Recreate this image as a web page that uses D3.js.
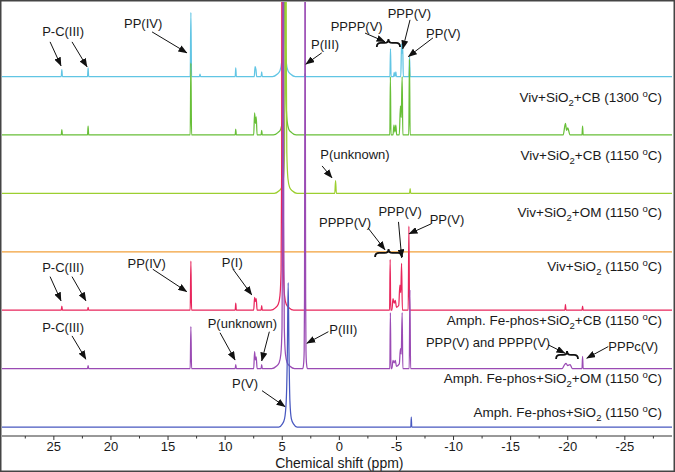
<!DOCTYPE html>
<html>
<head>
<meta charset="utf-8">
<script src="https://cdn.jsdelivr.net/npm/d3@7"></script>
<style>
  body { margin: 0; background: #fff; }
  svg text { font-family: "Liberation Sans", Arial, sans-serif; fill: #1a1a1a; }
</style>
</head>
<body>
<svg width="675" height="472"></svg>
<script>
// ---- data (ppm, intensity in a.u.; 100 a.u. = one stacking step) ----
var xTicks = [25, 20, 15, 10, 5, 0, -5, -10, -15, -20, -25];

var sampleLabels = [
  "Viv+SiO_2+CB (1300 ^oC)",
  "Viv+SiO_2+CB (1150 ^oC)",
  "Viv+SiO_2+OM (1150 ^oC)",
  "Viv+SiO_2 (1150 ^oC)",
  "Amph. Fe-phos+SiO_2+CB (1150 ^oC)",
  "Amph. Fe-phos+SiO_2+OM (1150 ^oC)",
  "Amph. Fe-phos+SiO_2 (1150 ^oC)"
];
var colors = ["#61c5e4", "#68bf38", "#9ccf30", "#f2a03a", "#e8265c", "#9a4bb4", "#4858c0"];

var specCB1300 = [
  [24.35,0],[24.3,12],[24.25,0], [22.05,0],[22.0,15],[21.95,0],
  [13.06,0],[13.0,110],[12.94,0], [12.25,0],[12.2,4],[12.15,0],
  [9.12,0],[9.07,15],[9.02,0], [7.45,0],[7.38,17],[7.3,12],[7.24,0], [6.85,0],[6.8,8],[6.75,0],
  [5.85,0],[5.45,4],[5.2,10],[5.05,25],[4.95,70],[4.9,250],[4.85,2000],[4.8,250],[4.75,70],[4.65,25],[4.5,10],[4.25,4],[3.85,0],
  [3.05,0],[3.0,5],[2.95,0],
  [-4.43,0],[-4.48,48],[-4.53,0], [-4.75,0],[-4.8,7],[-4.88,0],[-4.95,8],[-5.0,0],
  [-5.38,0],[-5.45,56],[-5.5,40],[-5.55,52],[-5.6,0], [-6.1,0],[-6.15,34],[-6.2,0]
];
var specCB1150 = [
  [24.35,0],[24.3,9],[24.25,0], [22.05,0],[22.0,15],[21.95,0],
  [13.06,0],[13.0,123],[12.94,0], [9.12,0],[9.07,10],[9.02,0],
  [7.5,0],[7.42,38],[7.35,20],[7.28,31],[7.2,0], [6.85,0],[6.8,8],[6.75,0],
  [5.78,0],[5.38,4],[5.13,10],[4.98,25],[4.88,70],[4.83,250],[4.78,2000],[4.73,250],[4.68,70],[4.58,25],[4.43,10],[4.18,4],[3.78,0],
  [-4.42,0],[-4.47,100],[-4.52,0], [-4.7,0],[-4.78,17],[-4.86,5],[-4.95,17],[-5.02,0],
  [-5.25,0],[-5.35,50],[-5.42,30],[-5.5,100],[-5.56,0], [-6.08,0],[-6.14,130],[-6.2,0],
  [-19.6,0],[-19.8,20],[-19.9,8],[-20.0,12],[-20.2,0], [-21.25,0],[-21.3,15],[-21.35,0]
];
var specOM1150 = [
  [5.7,0],[5.3,4],[5.05,10],[4.9,25],[4.8,70],[4.75,250],[4.7,2000],[4.65,250],[4.6,70],[4.5,25],[4.35,10],[4.1,4],[3.7,0],
  [0.4,0],[0.33,22],[0.26,0], [-6.15,0],[-6.2,8],[-6.25,0]
];
var specSiO2 = [];
var specAmphCB = [
  [24.35,0],[24.3,7],[24.25,0], [22.05,0],[22.0,5],[21.95,0],
  [13.06,0],[13.0,84],[12.94,0], [9.12,0],[9.07,12],[9.02,0],
  [7.5,0],[7.42,22],[7.35,15],[7.28,20],[7.2,0], [6.85,0],[6.8,8],[6.75,0],
  [6.0,0],[5.6,4],[5.35,10],[5.2,25],[5.1,70],[5.05,250],[5.0,2000],[4.95,250],[4.9,70],[4.8,25],[4.65,10],[4.4,4],[4.0,0],
  [3.05,0],[3.0,8],[2.95,0],
  [-4.4,0],[-4.45,87],[-4.5,0],
  [-4.6,0],[-4.7,20],[-4.8,12],[-4.9,17],[-5.0,5],[-5.2,8],[-5.3,43],[-5.38,30],[-5.45,80],[-5.52,0],
  [-6.03,0],[-6.09,144],[-6.15,0],
  [-19.75,0],[-19.8,10],[-19.85,0], [-21.25,0],[-21.3,7],[-21.35,0]
];
var specAmphOM = [
  [22.05,0],[22.0,5],[21.95,0],
  [13.06,0],[13.0,72],[12.94,0], [9.12,0],[9.07,7],[9.02,0],
  [7.5,0],[7.42,29],[7.35,15],[7.28,20],[7.2,0], [6.85,0],[6.8,7],[6.75,0],
  [5.92,0],[5.52,4],[5.27,10],[5.12,25],[5.02,70],[4.97,250],[4.92,2000],[4.87,250],[4.82,70],[4.72,25],[4.57,10],[4.32,4],[3.92,0],
  [3.2,0],[3.12,10],[3.08,30],[3.05,120],[3.02,500],[3.0,3000],[2.98,500],[2.95,120],[2.92,30],[2.88,10],[2.8,0],
  [-4.42,0],[-4.47,96],[-4.52,0],
  [-4.6,0],[-4.7,14],[-4.8,10],[-4.9,14],[-5.0,4],[-5.25,8],[-5.35,34],[-5.42,25],[-5.5,96],[-5.56,0],
  [-6.12,0],[-6.18,135],[-6.24,0],
  [-19.5,0],[-19.7,6],[-19.85,9],[-20.0,5],[-20.2,7],[-20.4,0], [-21.25,0],[-21.3,21],[-21.35,0]
];
var specAmph = [
  [5.3,0],[5.0,5],[4.8,14],[4.65,45],[4.55,130],[4.48,247],[4.41,130],[4.33,45],[4.2,14],[4.0,5],[3.7,0],
  [-6.26,0],[-6.3,17],[-6.34,0]
];
var spectra = [specCB1300, specCB1150, specOM1150, specSiO2, specAmphCB, specAmphOM, specAmph];

// peak annotations: position in ppm / a.u. above the trace baseline
var notes = [
  {trace:0, text:"P-C(III)", at:[24.19,76.5], arrows:[[25.33,59.4,24.37,18.3],[23.41,59.4,22.09,16.6]]},
  {trace:0, text:"PP(IV)", at:[17.18,90.2], arrows:[[16.40,76.5,13.34,40.6]]},
  {trace:0, text:"P(III)", at:[1.25,54.3], arrows:[[1.54,40.6,2.94,21.2]]},
  {trace:0, text:"PPPP(V)", at:[-1.52,85.6], arrows:[[-2.25,74.5,-4.0,59.6]], brace:[-3.28,-5.32,57.7]},
  {trace:0, text:"PPP(V)", at:[-6.13,108.6], arrows:[[-6.19,97.1,-5.55,47.4]]},
  {trace:0, text:"PP(V)", at:[-9.11,74.3], arrows:[[-8.2,66.3,-6.04,34.2]]},
  {trace:2, text:"P(unknown)", at:[-1.37,65.9], arrows:[[1.51,47,0.64,26.5]]},
  {trace:4, text:"P-C(III)", at:[24.19,73.6], arrows:[[25.33,57.5,24.37,15.9],[23.41,57.5,22.19,15.9]]},
  {trace:4, text:"PP(IV)", at:[16.87,80.5], arrows:[[16.34,70.2,13.36,31.8]]},
  {trace:4, text:"P(I)", at:[9.37,82.2], arrows:[[9.31,70.2,7.67,26.2]]},
  {trace:4, text:"PPPP(V)", at:[-0.5,149.5], arrows:[[-2.51,140.9,-4.0,103.3]], brace:[-3.13,-5.49,98.1]},
  {trace:4, text:"PPP(V)", at:[-5.32,168.3], arrows:[[-5.18,151.2,-5.46,89.6]]},
  {trace:4, text:"PP(V)", at:[-9.43,154.6], arrows:[[-8.03,147.8,-6.10,130.7]]},
  {trace:5, text:"P-C(III)", at:[24.19,70.2], arrows:[[23.41,56.0,22.19,16.1]]},
  {trace:5, text:"P(unknown)", at:[8.49,77.7], arrows:[[10.45,61.5,9.13,14.6],[6.13,63.2,6.8,13.0]]},
  {trace:5, text:"P(III)", at:[-0.35,66.3], arrows:[[0.96,63.2,2.85,43.3]]},
  {trace:5, text:"PPP(V) and PPPP(V)", at:[-13.02,44.5], arrows:[[-18.3,40.6,-19.76,26.4]], brace:[-18.98,-20.9,23.5]},
  {trace:5, text:"PPPc(V)", at:[-25.74,37.7], arrows:[[-23.55,37.7,-21.66,17.8]]},
  {trace:6, text:"P(V)", at:[8.26,74.1], arrows:[[6.77,62.2,4.75,34.8]]}
];
// sample label vertical place, a.u. relative to its baseline
var labelShift = [-34.8, -34.6, -31.7, -24.5, -16.6, -15.9, 25.9];

// ---- layout ----
var svg = d3.select("svg");
var plotL = 2, plotR = 672, plotT = 2, axisY = 436;
var ppmMax = 29.54, ppmMin = -29.13, step = 100;

var x = d3.scaleLinear().domain([ppmMax, ppmMin]).range([plotL, plotR]);
var y = d3.scaleLinear().domain([-15.4, 727.7]).range([axisY, plotT]);

var defs = svg.append("defs");
defs.append("clipPath").attr("id", "plot")
  .append("rect").attr("x", plotL).attr("y", plotT).attr("width", plotR - plotL).attr("height", axisY - plotT);
defs.append("marker").attr("id", "head")
  .attr("markerUnits", "userSpaceOnUse")
  .attr("markerWidth", 9).attr("markerHeight", 7)
  .attr("refX", 8.5).attr("refY", 3.5).attr("orient", "auto")
  .append("path").attr("d", "M0,0 L9,3.5 L0,7 Z").attr("fill", "#111");

function base(i) { return (spectra.length - 1 - i) * step; }

// spectra
var line = d3.line().curve(d3.curveMonotoneX);
var g = svg.append("g").attr("clip-path", "url(#plot)");
spectra.forEach(function (spec, i) {
  var pts = [[ppmMax, 0]].concat(spec).concat([[ppmMin, 0]]);
  g.append("path")
    .attr("d", line(pts.map(function (d) { return [x(d[0]), y(d[1] + base(i))]; })))
    .attr("fill", "none")
    .attr("stroke", colors[i])
    .attr("stroke-width", 1.25);
});

// text with _sub and ^sup pieces; the shift back is put on the next piece
function richText(sel, str) {
  var parts = str.split(/(_\w|\^\w)/), back = 0;
  parts.forEach(function (p) {
    if (!p) return;
    if (p[0] === "_") {
      sel.append("tspan").attr("font-size", "9.5px").attr("dy", back + 4).text(p[1]);
      back = -4;
    } else if (p[0] === "^") {
      sel.append("tspan").attr("font-size", "9.5px").attr("dy", back - 5).text(p[1]);
      back = 5;
    } else {
      sel.append("tspan").attr("dy", back).text(p);
      back = 0;
    }
  });
}

sampleLabels.forEach(function (s, i) {
  var t = svg.append("text")
    .attr("x", 662)
    .attr("y", y(base(i) + labelShift[i]) + 5)
    .attr("text-anchor", "end")
    .attr("font-size", "13.5px");
  richText(t, s);
});

// annotations
var ann = svg.append("g");
notes.forEach(function (n) {
  var b = base(n.trace);
  ann.append("text")
    .attr("x", x(n.at[0])).attr("y", y(b + n.at[1]) + 4.5)
    .attr("text-anchor", "middle")
    .attr("font-size", "13px")
    .text(n.text);
  n.arrows.forEach(function (a) {
    ann.append("line")
      .attr("x1", x(a[0])).attr("y1", y(b + a[1]))
      .attr("x2", x(a[2])).attr("y2", y(b + a[3]))
      .attr("stroke", "#111").attr("stroke-width", 1)
      .attr("marker-end", "url(#head)");
  });
  if (n.brace) {
    var x0 = x(n.brace[0]), x1 = x(n.brace[1]), yb = y(b + n.brace[2]), xm = (x0 + x1) / 2, h = 4;
    ann.append("path")
      .attr("d", "M" + x0 + "," + (yb + h) + " Q" + x0 + "," + yb + " " + (x0 + h) + "," + yb +
        " L" + (xm - h) + "," + yb + " Q" + xm + "," + yb + " " + xm + "," + (yb - h) +
        " Q" + xm + "," + yb + " " + (xm + h) + "," + yb +
        " L" + (x1 - h) + "," + yb + " Q" + x1 + "," + yb + " " + x1 + "," + (yb + h))
      .attr("fill", "none").attr("stroke", "#111").attr("stroke-width", 1.8);
  }
});

// x axis
var axis = svg.append("g").attr("transform", "translate(0," + axisY + ")");
axis.append("line").attr("x1", plotL).attr("x2", plotR).attr("stroke", "#333").attr("stroke-width", 1);
var minor = d3.range(27.5, -28, -2.5).filter(function (v) { return v % 5 !== 0; });
axis.selectAll(".minor").data(minor).enter().append("line")
  .attr("x1", d => x(d)).attr("x2", d => x(d)).attr("y1", 0).attr("y2", 2.5)
  .attr("stroke", "#333");
axis.selectAll(".major").data(xTicks).enter().append("line")
  .attr("x1", d => x(d)).attr("x2", d => x(d)).attr("y1", 0).attr("y2", 4)
  .attr("stroke", "#333");
axis.selectAll(".lab").data(xTicks).enter().append("text")
  .attr("x", d => x(d)).attr("y", 14.5)
  .attr("text-anchor", "middle").attr("font-size", "13px")
  .text(d => d);
svg.append("text").attr("x", x(0)).attr("y", 468)
  .attr("text-anchor", "middle").attr("font-size", "14px")
  .text("Chemical shift (ppm)");

// outer frame
svg.append("rect").attr("x", 0.75).attr("y", 0.75).attr("width", 673.5).attr("height", 470.5)
  .attr("fill", "none").attr("stroke", "#444").attr("stroke-width", 1.5);
</script>
</body>
</html>
